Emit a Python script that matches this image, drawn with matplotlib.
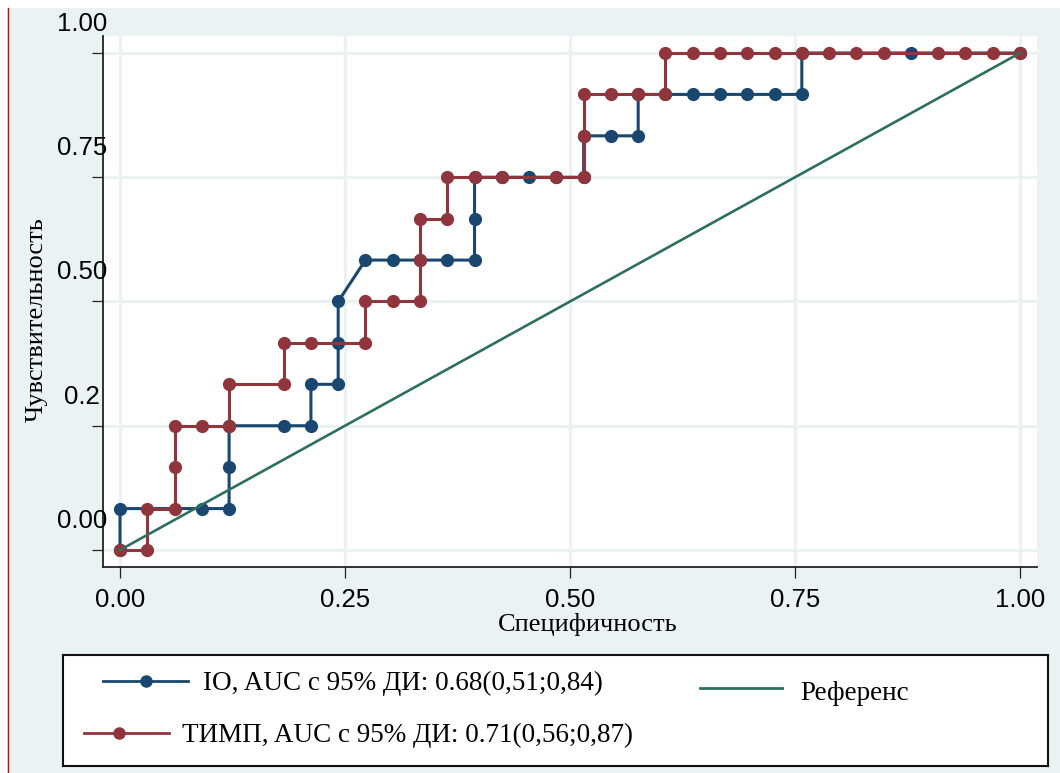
import matplotlib
matplotlib.use("Agg")
import matplotlib.pyplot as plt
from matplotlib.lines import Line2D
from matplotlib.patches import Rectangle
from matplotlib.transforms import blended_transform_factory, offset_copy
import numpy as np

# ROC points as (false positives, true positives) counts
N_NEG = 33
N_POS = 12

IO_FP = [0, 0, 3, 4, 4, 4, 6, 7, 7, 8, 8, 8, 9, 10, 11, 12, 13, 13, 13, 14, 15,
         16, 17, 17, 18, 19, 19, 20, 21, 22, 23, 24, 25, 25, 29, 33]
IO_TP = [0, 1, 1, 1, 2, 3, 3, 3, 4, 4, 5, 6, 7, 7, 7, 7, 7, 8, 9, 9, 9,
         9, 9, 10, 10, 10, 11, 11, 11, 11, 11, 11, 11, 12, 12, 12]

TIMP_FP = [0, 1, 1, 2, 2, 2, 3, 4, 4, 6, 6, 7, 9, 9, 10, 11, 11, 11, 12, 12, 13,
           14, 16, 17, 17, 17, 18, 19, 20, 20, 21, 22, 23, 24, 25, 26, 27, 28,
           30, 31, 32, 33]
TIMP_TP = [0, 0, 1, 1, 2, 3, 3, 3, 4, 4, 5, 5, 5, 6, 6, 6, 7, 8, 8, 9, 9,
           9, 9, 9, 10, 11, 11, 11, 11, 12, 12, 12, 12, 12, 12, 12, 12, 12,
           12, 12, 12, 12]

X_TICKS = [0.0, 0.25, 0.5, 0.75, 1.0]
X_TICK_LABELS = ["0.00", "0.25", "0.50", "0.75", "1.00"]
Y_TICKS = [0.0, 0.25, 0.5, 0.75, 1.0]
Y_TICK_LABELS = ["0.00", "0.2", "0.50", "0.75", "1.00"]

LEGEND_IO = "IO, AUC с 95% ДИ: 0.68(0,51;0,84)"
LEGEND_TIMP = "ТИМП, AUC с 95% ДИ: 0.71(0,56;0,87)"
LEGEND_REF = "Референс"

NAVY = "#1A476F"
MAROON = "#90353B"
REF_GREEN = "#2E6E62"
BG = "#EAF2F3"

SERIF = ["Liberation Serif", "DejaVu Serif"]
SANS = ["Liberation Sans", "DejaVu Sans"]

W, H = 1060, 773
fig = plt.figure(figsize=(W / 100, H / 100), dpi=100, facecolor=BG)

# white margins and the thin red edge line on the left
fig.patches.append(Rectangle((0, 1 - 8 / H), 1, 8 / H, transform=fig.transFigure,
                             facecolor="white", edgecolor="none", zorder=0))
fig.patches.append(Rectangle((0, 0), 7 / W, 1, transform=fig.transFigure,
                             facecolor="white", edgecolor="none", zorder=0))
fig.lines.append(Line2D([7.5 / W, 7.5 / W], [0, 1 - 8 / H], transform=fig.transFigure,
                        color="#E00000", linewidth=1.0))


def px_box(x0, y0, x1, y1):
    return [x0 / W, 1 - y1 / H, (x1 - x0) / W, (y1 - y0) / H]


ax = fig.add_axes(px_box(103, 36, 1037, 567))
ax.set_facecolor("white")
ax.set_xlim(-17 / 900, 1 + 17 / 900)
ax.set_ylim(-17 / 497, 1 + 17 / 497)

for v in X_TICKS:
    ax.axvline(v, color=BG, linewidth=2.3, zorder=1)
for v in Y_TICKS:
    ax.axhline(v, color=BG, linewidth=2.3, zorder=1)

io_x = np.array(IO_FP) / N_NEG
io_y = np.array(IO_TP) / N_POS
timp_x = np.array(TIMP_FP) / N_NEG
timp_y = np.array(TIMP_TP) / N_POS

ax.plot(io_x, io_y, color=NAVY, linewidth=2.2, marker="o", markersize=9.5,
        markeredgewidth=0, zorder=3)
ax.plot(timp_x, timp_y, color=MAROON, linewidth=2.2, marker="o", markersize=9.5,
        markeredgewidth=0, zorder=4)
ax.plot([0, 1], [0, 1], color=REF_GREEN, linewidth=1.9, zorder=5)

for side in ("top", "right"):
    ax.spines[side].set_visible(False)
for side in ("left", "bottom"):
    ax.spines[side].set_linewidth(1.3)
    ax.spines[side].set_color("#222222")

ax.set_xticks(X_TICKS)
ax.set_xticklabels(X_TICK_LABELS, family=SANS, fontsize=18.5)
ax.tick_params(axis="x", length=8, width=0.9, pad=7, color="#222222")

# y labels sit above their ticks
ax.set_yticks(Y_TICKS)
ax.set_yticklabels([])
ax.tick_params(axis="y", length=8, width=0.9, color="#222222")
ytrans = blended_transform_factory(ax.transAxes, ax.transData)
ytrans = offset_copy(ytrans, fig=fig, x=0, y=29, units="dots")
for v, lab in zip(Y_TICKS, Y_TICK_LABELS):
    ax.text(-21 / 934, v, lab, transform=ytrans, ha="center", va="center",
            family=SANS, fontsize=18.5)

fig.text(588 / W, 1 - 625 / H, "Специфичность", ha="center", va="center",
         family=SERIF, fontsize=19)
fig.text(37 / W, 1 - 320 / H, "Чувствительность", ha="center", va="center",
         rotation=90, family=SERIF, fontsize=19)

# legend box in pixel coordinates
lg = fig.add_axes(px_box(63, 655, 1048, 766))
lg.set_xlim(63, 1048)
lg.set_ylim(766, 655)
lg.set_facecolor("white")
for s in lg.spines.values():
    s.set_linewidth(1.5)
    s.set_color("#111111")
lg.set_xticks([])
lg.set_yticks([])

lg.plot([103, 188], [681, 681], color=NAVY, linewidth=2.0)
lg.plot([146], [681], color=NAVY, marker="o", markersize=9, markeredgewidth=0)
lg.text(203, 683, LEGEND_IO, ha="left", va="center", family=SERIF, fontsize=19.5)

lg.plot([84, 169], [733, 733], color=MAROON, linewidth=2.0)
lg.plot([119], [733], color=MAROON, marker="o", markersize=9, markeredgewidth=0)
lg.text(182, 735, LEGEND_TIMP, ha="left", va="center", family=SERIF, fontsize=19.5)

lg.plot([700, 782], [688, 688], color=REF_GREEN, linewidth=2.0)
lg.text(800, 693, LEGEND_REF, ha="left", va="center", family=SERIF, fontsize=19.5)

fig.savefig("out.png", dpi=100, facecolor=BG)
